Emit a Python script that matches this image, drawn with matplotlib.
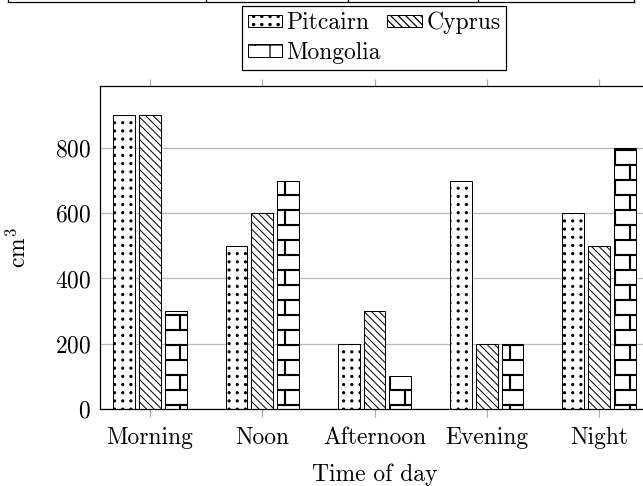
import numpy as np
import matplotlib
matplotlib.use("Agg")
import matplotlib.pyplot as plt
import matplotlib.hatch as mhatch
from matplotlib.path import Path
from matplotlib.lines import Line2D

# Data
times = ["Morning", "Noon", "Afternoon", "Evening", "Night"]
pitcairn = [900, 500, 200, 700, 600]
cyprus = [900, 600, 300, 200, 500]
mongolia = [300, 700, 100, 200, 800]
y_ticks = [0, 200, 400, 600, 800]


# pgfplots-like patterns: a square grid of dots ('.') and bricks ('O')
class GridDots(mhatch.HatchPatternBase):
    def __init__(self, hatch, density):
        self.n = 11 * hatch.count(".")
        circ = Path.unit_circle()
        self.cv = circ.vertices * 0.012
        self.cc = circ.codes
        self.num_vertices = (self.n + 1) ** 2 * len(self.cv) if self.n else 0

    def set_vertices_and_codes(self, vertices, codes):
        k = len(self.cv)
        i = 0
        for r in range(self.n + 1):
            for c in range(self.n + 1):
                vertices[i:i + k] = self.cv + (c / self.n, r / self.n)
                codes[i:i + k] = self.cc
                i += k


class Bricks(mhatch.HatchPatternBase):
    def __init__(self, hatch, density):
        rows = 6 * hatch.count("O")
        cols = 3
        self.segs = []
        if rows:
            for r in range(rows + 1):
                self.segs.append(((0, r / rows), (1, r / rows)))
            for r in range(rows):
                if r % 2 == 0:
                    xs = np.arange(cols + 1) / cols
                else:
                    xs = (np.arange(cols) + 0.5) / cols
                for xx in xs:
                    self.segs.append(((xx, r / rows), (xx, (r + 1) / rows)))
        self.num_vertices = 2 * len(self.segs)

    def set_vertices_and_codes(self, vertices, codes):
        for i, (a, b) in enumerate(self.segs):
            vertices[2 * i] = a
            vertices[2 * i + 1] = b
            codes[2 * i] = Path.MOVETO
            codes[2 * i + 1] = Path.LINETO


mhatch._hatch_types = [mhatch.SouthEastHatch, GridDots, Bricks]

plt.rcParams["font.family"] = "cmr10"
plt.rcParams["mathtext.fontset"] = "cm"
plt.rcParams["axes.formatter.use_mathtext"] = True
plt.rcParams["font.size"] = 18.8
plt.rcParams["hatch.linewidth"] = 1.0

DPI = 90
W, H = 643, 486
fig = plt.figure(figsize=(W / DPI, H / DPI), dpi=DPI)
ax = fig.add_axes([100 / W, 77 / H, 549 / W, 323 / H])

x = np.arange(len(times))
bw = 0.193
off = 0.23
series = [
    (pitcairn, "Pitcairn", ".", -off, 0.8),
    (cyprus, "Cyprus", "\\" * 4, 0.0, 0.8),
    (mongolia, "Mongolia", "O", off, 1.7),
]
bars = []
for vals, name, hatch, dx, hlw in series:
    b = ax.bar(x + dx, vals, bw, label=name, facecolor="white",
               edgecolor="black", linewidth=0.8, hatch=hatch, zorder=2)
    for p in b:
        if hasattr(p, "set_hatch_linewidth"):
            p.set_hatch_linewidth(hlw)
    bars.append(b)

ax.set_xlim(-0.445, 4.445)
ax.set_ylim(0, 990)
ax.set_xticks(x, times)
ax.set_yticks(y_ticks)
ax.tick_params(axis="x", direction="out", length=6, width=1.0,
               color="#aaaaaa", top=True, bottom=True, pad=8)
ax.tick_params(axis="y", length=0, pad=7.4)
ax.grid(axis="y", color="#b8b8b8", linewidth=1.0)
ax.set_axisbelow(True)
for s in ax.spines.values():
    s.set_linewidth(1.0)

ax.set_xlabel("Time of day", labelpad=12)
ax.set_ylabel(r"$\mathrm{cm}^3$")
ax.yaxis.set_label_coords(-0.124, 0.5)

# legend: Pitcairn, Cyprus on first row, Mongolia below
h = [bars[0], bars[2], bars[1]]
leg = ax.legend(h, ["Pitcairn", "Mongolia", "Cyprus"], ncol=2,
                loc="upper left", bbox_to_anchor=(241.7 / W, 1 - 6 / H),
                bbox_transform=fig.transFigure, borderaxespad=0,
                fancybox=False, edgecolor="black", framealpha=1,
                handlelength=1.45, handleheight=0.43, handletextpad=0.2,
                columnspacing=0.28, labelspacing=0.32, borderpad=0.25)
leg.get_frame().set_linewidth(1.0)

# bottom edge of the table above the chart
table_cols = [8.3, 205.7, 347.7, 478, 634]
fig.add_artist(Line2D([table_cols[0] / W, table_cols[-1] / W], [1 - 2 / H] * 2,
                      transform=fig.transFigure, color="black", lw=1.0))
for c in table_cols:
    fig.add_artist(Line2D([c / W] * 2, [1 - 2 / H, 1],
                          transform=fig.transFigure, color="black", lw=1.0))

fig.savefig("out.png", dpi=DPI)
